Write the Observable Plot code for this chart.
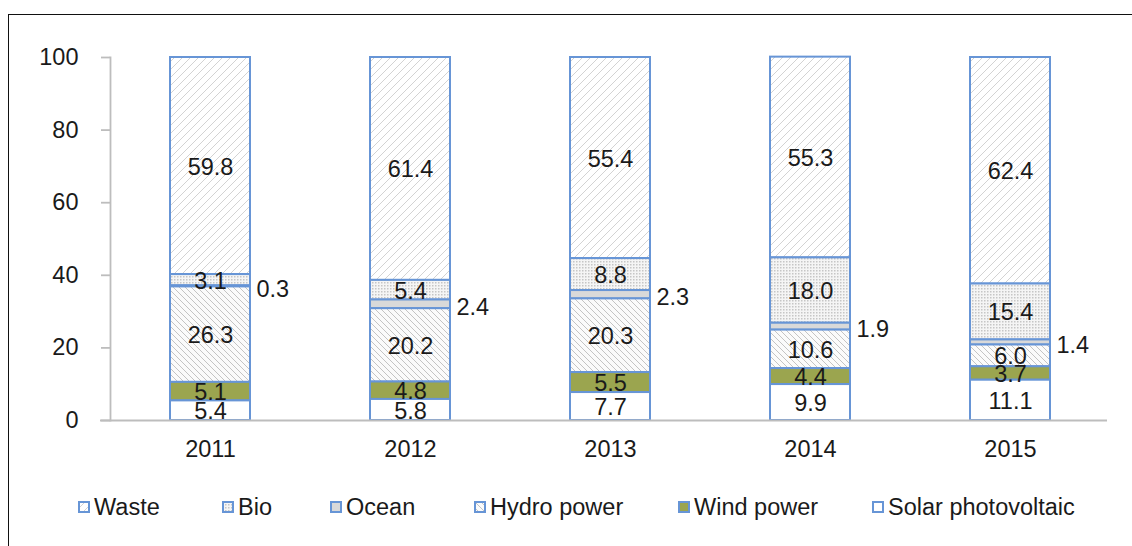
<!DOCTYPE html>
<html>
<head>
<meta charset="utf-8">
<script src="https://cdn.jsdelivr.net/npm/d3@7"></script>
<script src="https://cdn.jsdelivr.net/npm/@observablehq/plot@0.6"></script>
<style>
  html, body { margin: 0; padding: 0; background: #fff; }
  #wrap { position: relative; width: 1132px; height: 546px; overflow: hidden; font-family: "Liberation Sans", Arial, sans-serif; }
  #frame { position: absolute; left: 8px; top: 14px; width: 1200px; height: 600px; border-left: 1.5px solid #111; border-top: 1.5px solid #111; pointer-events: none; }
  #chart { position: absolute; left: 0; top: 0; }
  #legend { position: absolute; left: 0; top: 470px; width: 1132px; height: 76px; }
  .item { position: absolute; top: 24px; display: flex; align-items: center; font-size: 23.5px; color: #1a1a1a; line-height: 26px; }
  .item svg { margin-right: 4px; }
</style>
</head>
<body>
<svg width="0" height="0" style="position:absolute">
  <defs>
    <pattern id="pWaste" patternUnits="userSpaceOnUse" width="8" height="8">
      <path d="M0,8 L8,0 M-2,2 L2,-2 M6,10 L10,6" stroke="#d3d3d3" stroke-width="1" fill="none"/>
    </pattern>
    <pattern id="pHydro" patternUnits="userSpaceOnUse" width="6" height="6">
      <rect width="6" height="6" fill="#fbfbfb"/>
      <path d="M0,0 L6,6 M-2,4 L2,8 M4,-2 L8,2" stroke="#c4c4c4" stroke-width="1" fill="none"/>
    </pattern>
    <pattern id="pBio" patternUnits="userSpaceOnUse" width="3" height="3">
      <rect width="3" height="3" fill="#f5f5f5"/>
      <rect width="1.5" height="1.5" fill="#c6c6c6"/>
    </pattern>
  </defs>
</svg>
<div id="wrap">
  <div id="chart"></div>
  <div id="legend"></div>
  <div id="frame"></div>
</div>
<script>
const years = ["2011", "2012", "2013", "2014", "2015"];
const sources = ["Waste", "Bio", "Ocean", "Hydro power", "Wind power", "Solar photovoltaic"];
const waste = [59.8, 61.4, 55.4, 55.3, 62.4];
const bio = [3.1, 5.4, 8.8, 18.0, 15.4];
const ocean = [0.3, 2.4, 2.3, 1.9, 1.4];
const hydro = [26.3, 20.2, 20.3, 10.6, 6.0];
const wind = [5.1, 4.8, 5.5, 4.4, 3.7];
const solar = [5.4, 5.8, 7.7, 9.9, 11.1];
const yTicks = [0, 20, 40, 60, 80, 100];

const seriesValues = {
  "Waste": waste, "Bio": bio, "Ocean": ocean,
  "Hydro power": hydro, "Wind power": wind, "Solar photovoltaic": solar
};
const fills = {
  "Waste": "url(#pWaste)", "Bio": "url(#pBio)", "Ocean": "#d9d9d9",
  "Hydro power": "url(#pHydro)", "Wind power": "#9ba54f", "Solar photovoltaic": "#ffffff"
};
const stackOrder = ["Solar photovoltaic", "Wind power", "Hydro power", "Ocean", "Bio", "Waste"];
const blue = "#6795d6";
const fs = 23.5;

const rows = [];
years.forEach((yr, i) => {
  sources.forEach(s => rows.push({year: yr, source: s, value: seriesValues[s][i]}));
});

const chart = Plot.plot({
  width: 1132,
  height: 470,
  marginLeft: 110,
  marginRight: 22,
  marginTop: 57,
  marginBottom: 50,
  style: {background: "transparent", fontFamily: "'Liberation Sans', Arial, sans-serif", fontSize: fs + "px", color: "#1a1a1a"},
  x: {domain: years, paddingInner: 0.6, paddingOuter: 0.3, label: null},
  y: {domain: [0, 100], label: null},
  color: {type: "ordinal", domain: sources, range: sources.map(s => fills[s])},
  marks: [
    Plot.frame({anchor: "left", stroke: "#bdbdbd", strokeWidth: 1.8}),
    Plot.axisY({ticks: yTicks, tickSize: 9, tickPadding: 23, stroke: "#bdbdbd", strokeWidth: 1.8, fill: "#1a1a1a", label: null, fontSize: fs}),
    Plot.axisX({tickSize: 0, tickPadding: 20, fill: "#1a1a1a", label: null, fontSize: fs}),
    Plot.barY(rows, {x: "year", y: "value", z: "source", fill: "source", order: stackOrder, stroke: blue, strokeWidth: 2}),
    Plot.ruleY([0], {stroke: "#bdbdbd", strokeWidth: 1.8, insetLeft: -10, insetRight: 3}),
    Plot.text(rows, Plot.stackY({x: "year", y: "value", z: "source", order: stackOrder,
      text: d => d.source === "Ocean" ? "" : d.value.toFixed(1), fill: "#1a1a1a", fontSize: fs, dy: 1})),
    Plot.text(rows, Plot.stackY({x: "year", y: "value", z: "source", order: stackOrder,
      text: d => d.source === "Ocean" ? d.value.toFixed(1) : "", fill: "#1a1a1a", fontSize: fs, textAnchor: "start", dx: 46, dy: 3}))
  ]
});
document.getElementById("chart").appendChild(chart);

const legendPos = [
  {s: "Waste", x: 78}, {s: "Bio", x: 222}, {s: "Ocean", x: 330},
  {s: "Hydro power", x: 474}, {s: "Wind power", x: 678}, {s: "Solar photovoltaic", x: 872}
];
const legend = document.getElementById("legend");
legendPos.forEach(({s, x}) => {
  const item = document.createElement("div");
  item.className = "item";
  item.style.left = x + "px";
  item.innerHTML = `<svg width="12" height="12"><rect x="1" y="1" width="10" height="10" fill="${fills[s]}" stroke="${blue}" stroke-width="2"/></svg><span>${s}</span>`;
  legend.appendChild(item);
});
</script>
</body>
</html>
